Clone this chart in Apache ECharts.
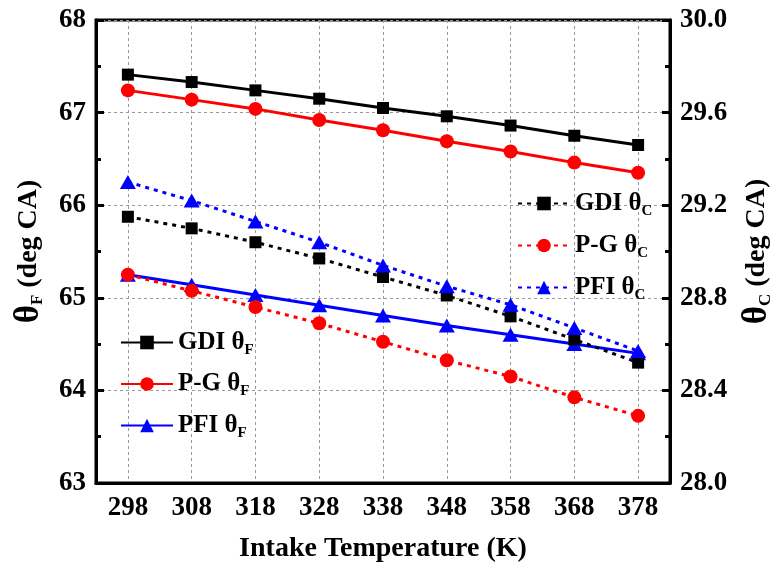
<!DOCTYPE html>
<html>
<head>
<meta charset="utf-8">
<script src="https://cdn.jsdelivr.net/npm/echarts@6/dist/echarts.min.js"></script>
<style>
  html, body { margin: 0; padding: 0; background: #fff; }
  #chart { width: 782px; height: 568px; }
</style>
</head>
<body>
<div id="chart"></div>
<script>
// Intake temperature categories (K)
const temperatures = ['298', '308', '318', '328', '338', '348', '358', '368', '378'];

// θF (left axis, deg CA)
const gdiThetaF = [67.41, 67.33, 67.24, 67.15, 67.05, 66.96, 66.86, 66.75, 66.65];
const pgThetaF  = [67.24, 67.14, 67.04, 66.92, 66.81, 66.69, 66.58, 66.46, 66.35];
const pfiThetaF = [65.25, 65.14, 65.03, 64.92, 64.81, 64.70, 64.60, 64.50, 64.40];

// θC (right axis, deg CA)
const gdiThetaC = [29.15, 29.10, 29.04, 28.97, 28.89, 28.81, 28.72, 28.62, 28.52];
const pgThetaC  = [28.90, 28.83, 28.76, 28.69, 28.61, 28.53, 28.46, 28.37, 28.29];
const pfiThetaC = [29.30, 29.22, 29.13, 29.04, 28.94, 28.85, 28.77, 28.67, 28.57];

const FONT = "'Liberation Serif', 'Times New Roman', serif";
const subRich = {
  a: { fontFamily: FONT, fontWeight: 'bold', fontSize: 25, color: '#000' },
  s: { fontFamily: FONT, fontWeight: 'bold', fontSize: 15, color: '#000', padding: [15, 0, 0, 0] }
};
const legendFormatter = name => {
  const base = name.slice(0, -1);
  const sub = name.slice(-1);
  return '{a|' + base + '}{s|' + sub + '}';
};
const nameRich = {
  t: { fontFamily: FONT, fontWeight: 'bold', fontSize: 35, color: '#000' },
  s: { fontFamily: FONT, fontWeight: 'bold', fontSize: 17, color: '#000', padding: [18, 0, 0, 0] },
  a: { fontFamily: FONT, fontWeight: 'bold', fontSize: 28, color: '#000' }
};

const solid = { width: 3, type: 'solid' };
const dotted = { width: 3, type: [4, 5] };

function lineSeries(name, data, color, symbol, size, style, yAxisIndex) {
  return {
    name, type: 'line', data, xAxisIndex: 0, yAxisIndex,
    symbol, symbolSize: size,
    lineStyle: Object.assign({ color }, style),
    itemStyle: { color },
    z: 3
  };
}

const chart = echarts.init(document.getElementById('chart'), null, { renderer: 'canvas' });

chart.setOption({
  animation: false,
  backgroundColor: '#fff',
  grid: {
    left: 96, top: 20, width: 578, height: 464,
    show: true, borderColor: '#000', borderWidth: 3, backgroundColor: 'transparent'
  },
  xAxis: [
    {
      type: 'category', data: temperatures, position: 'bottom', boundaryGap: true,
      name: 'Intake Temperature (K)', nameLocation: 'middle', nameGap: 52,
      nameTextStyle: { fontFamily: FONT, fontWeight: 'bold', fontSize: 28, color: '#000' },
      axisLine: { lineStyle: { color: '#000', width: 3 } },
      axisTick: { alignWithLabel: true, inside: true, length: 8, lineStyle: { color: '#000', width: 3 } },
      axisLabel: { fontFamily: FONT, fontWeight: 'bold', fontSize: 27, color: '#000', margin: 12 },
      splitLine: { show: true, alignWithLabel: true, lineStyle: { color: '#999', width: 1, type: [3, 3] } }
    },
    {
      // minor ticks at the band boundaries
      type: 'category', data: temperatures, position: 'bottom', boundaryGap: true,
      axisLine: { show: false },
      axisTick: { inside: true, length: 5, lineStyle: { color: '#000', width: 3 } },
      axisLabel: { show: false },
      splitLine: { show: false }
    }
  ],
  yAxis: [
    {
      type: 'value', min: 63, max: 68, interval: 1, position: 'left',
      name: '{t|θ}{s|F}{a| (deg CA)}', nameLocation: 'middle', nameGap: 50,
      nameTextStyle: { rich: nameRich },
      axisLine: { show: true, lineStyle: { color: '#000', width: 3 } },
      axisTick: { show: true, inside: true, length: 8, lineStyle: { color: '#000', width: 3 } },
      minorTick: { show: true, splitNumber: 2, length: 5, lineStyle: { color: '#000', width: 3 } },
      axisLabel: { fontFamily: FONT, fontWeight: 'bold', fontSize: 27, color: '#000', margin: 10 },
      splitLine: { show: true, lineStyle: { color: '#999', width: 1, type: [3, 3] } }
    },
    {
      type: 'value', min: 28, max: 30, interval: 0.4, position: 'right',
      name: '{t|θ}{s|C}{a| (deg CA)}', nameLocation: 'middle', nameGap: 69,
      nameRotate: 90,
      nameTextStyle: { rich: nameRich },
      axisLine: { show: true, lineStyle: { color: '#000', width: 3 } },
      axisTick: { show: true, inside: true, length: 8, lineStyle: { color: '#000', width: 3 } },
      minorTick: { show: true, splitNumber: 2, length: 5, lineStyle: { color: '#000', width: 3 } },
      axisLabel: { fontFamily: FONT, fontWeight: 'bold', fontSize: 27, color: '#000', margin: 10,
                   formatter: v => v.toFixed(1) },
      splitLine: { show: false }
    }
  ],
  legend: [
    {
      data: ['GDI θF', 'P-G θF', 'PFI θF'],
      orient: 'vertical', left: 115, top: 325,
      itemWidth: 52, itemHeight: 17, itemGap: 14,
      formatter: legendFormatter,
      textStyle: { rich: subRich }
    },
    {
      data: ['GDI θC', 'P-G θC', 'PFI θC'],
      orient: 'vertical', left: 512, top: 186,
      itemWidth: 52, itemHeight: 17, itemGap: 14.5,
      formatter: legendFormatter,
      textStyle: { rich: subRich }
    }
  ],
  series: [
    lineSeries('GDI θF', gdiThetaF, '#000000', 'rect', 12, solid, 0),
    lineSeries('P-G θF', pgThetaF, '#ff0000', 'circle', 14, solid, 0),
    lineSeries('PFI θF', pfiThetaF, '#0000ff', 'triangle', [16, 14], solid, 0),
    lineSeries('GDI θC', gdiThetaC, '#000000', 'rect', 12, dotted, 1),
    lineSeries('P-G θC', pgThetaC, '#ff0000', 'circle', 14, dotted, 1),
    lineSeries('PFI θC', pfiThetaC, '#0000ff', 'triangle', [16, 14], dotted, 1)
  ]
});
</script>
</body>
</html>
